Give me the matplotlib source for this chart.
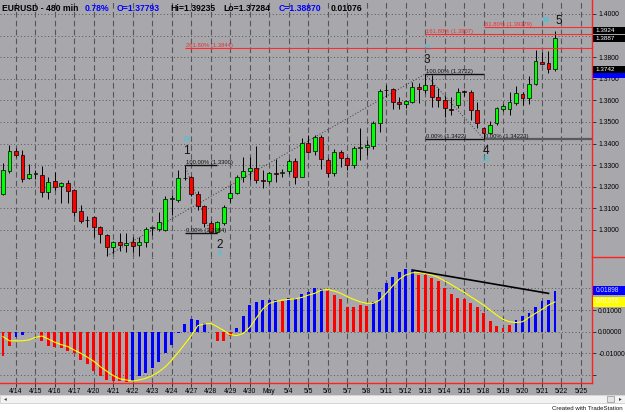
import matplotlib
matplotlib.use('Agg')
import matplotlib.pyplot as plt
from matplotlib.patches import Rectangle
from matplotlib.lines import Line2D

plt.rcParams['font.family'] = ['Liberation Sans', 'DejaVu Sans']

# --- price data (480 min bars) ---
opens = [1.3167, 1.3275, 1.3367, 1.3347, 1.3239, 1.3259, 1.3255, 1.3177, 1.3227, 1.3204,
         1.3219, 1.3185, 1.3088, 1.3046, 1.3059, 1.3015, 1.2977, 1.2920, 1.2946, 1.2931,
         1.2946, 1.2931, 1.2946, 1.3008, 1.3003, 1.3000, 1.3142, 1.3139, 1.3239, 1.3244,
         1.3167, 1.3111, 1.3034, 1.2992, 1.3031, 1.3147, 1.3170, 1.3247, 1.3273, 1.3286,
         1.3233, 1.3227, 1.3263, 1.3264, 1.3275, 1.3321, 1.3247, 1.3404, 1.3367, 1.3432,
         1.3324, 1.3262, 1.3363, 1.3332, 1.3301, 1.3380, 1.3383, 1.3390, 1.3494, 1.3646,
         1.3651, 1.3594, 1.3582, 1.3594, 1.3661, 1.3648, 1.3671, 1.3614, 1.3602, 1.3561,
         1.3579, 1.3640, 1.3638, 1.3556, 1.3474, 1.3448, 1.3494, 1.3560, 1.3560, 1.3587,
         1.3628, 1.3613, 1.3674, 1.3779, 1.3772, 1.3745]
highs = [1.3310, 1.3394, 1.3378, 1.3370, 1.3306, 1.3278, 1.3296, 1.3247, 1.3270, 1.3224,
         1.3231, 1.3188, 1.3116, 1.3065, 1.3065, 1.3019, 1.2981, 1.2950, 1.2988, 1.2988,
         1.2969, 1.2969, 1.3015, 1.3012, 1.3085, 1.3157, 1.3162, 1.3278, 1.3300, 1.3250,
         1.3182, 1.3116, 1.3043, 1.3043, 1.3116, 1.3208, 1.3255, 1.3339, 1.3336, 1.3389,
         1.3278, 1.3270, 1.3327, 1.3281, 1.3327, 1.3332, 1.3424, 1.3440, 1.3440, 1.3440,
         1.3332, 1.3373, 1.3370, 1.3339, 1.3390, 1.3472, 1.3417, 1.3505, 1.3651, 1.3671,
         1.3656, 1.3617, 1.3604, 1.3687, 1.3679, 1.3722, 1.3718, 1.3656, 1.3620, 1.3617,
         1.3656, 1.3650, 1.3648, 1.3591, 1.3478, 1.3505, 1.3571, 1.3583, 1.3638, 1.3668,
         1.3638, 1.3714, 1.3833, 1.3825, 1.3829, 1.39235]
lows = [1.3162, 1.3262, 1.3339, 1.3224, 1.3235, 1.3236, 1.3154, 1.3142, 1.3185, 1.3124,
        1.3127, 1.3065, 1.3034, 1.3015, 1.2969, 1.2941, 1.2880, 1.2895, 1.2904, 1.2900,
        1.2900, 1.2880, 1.2920, 1.2977, 1.2997, 1.2997, 1.3069, 1.3131, 1.3231, 1.3157,
        1.3093, 1.3015, 1.2984, 1.2988, 1.3023, 1.3131, 1.3167, 1.3224, 1.3231, 1.3219,
        1.3193, 1.3219, 1.3224, 1.3247, 1.3259, 1.3213, 1.3244, 1.3358, 1.3347, 1.3281,
        1.3247, 1.3250, 1.3293, 1.3278, 1.3285, 1.3324, 1.3347, 1.3375, 1.3455, 1.3617,
        1.3559, 1.3559, 1.3565, 1.3590, 1.3587, 1.3633, 1.3571, 1.3571, 1.3525, 1.3532,
        1.3567, 1.3620, 1.3509, 1.3471, 1.3422, 1.3443, 1.3486, 1.3551, 1.3532, 1.3579,
        1.3579, 1.3582, 1.3671, 1.3767, 1.37284, 1.3738]
closes = [1.3278, 1.3367, 1.3347, 1.3235, 1.3259, 1.3259, 1.3177, 1.3224, 1.3201, 1.3219,
          1.3182, 1.3085, 1.3043, 1.3044, 1.3012, 1.2981, 1.2920, 1.2943, 1.2931, 1.2941,
          1.2926, 1.2946, 1.3003, 1.3008, 1.3039, 1.3142, 1.3142, 1.3239, 1.3239, 1.3167,
          1.3111, 1.3034, 1.2992, 1.3039, 1.3105, 1.3170, 1.3247, 1.3273, 1.3286, 1.3231,
          1.3229, 1.3262, 1.3261, 1.3266, 1.3321, 1.3247, 1.3404, 1.3363, 1.3432, 1.3327,
          1.3262, 1.3363, 1.3332, 1.3301, 1.3378, 1.3386, 1.3394, 1.3494, 1.3645, 1.3649,
          1.3594, 1.3582, 1.3597, 1.3664, 1.3651, 1.3671, 1.3614, 1.3602, 1.3563, 1.3557,
          1.3640, 1.3638, 1.3556, 1.3494, 1.3448, 1.3486, 1.3563, 1.3576, 1.3591, 1.3633,
          1.3613, 1.3674, 1.3782, 1.3769, 1.3745, 1.3887]

# --- oscillator ---
hist = [-0.0111, -0.0065, -0.0026, -0.0015, -0.0003, -0.0002, -0.0042, -0.0065, -0.0069, -0.0077,
        -0.0088, -0.0100, -0.0129, -0.0149, -0.0180, -0.0203, -0.0222, -0.0226, -0.0229, -0.0231,
        -0.0226, -0.0206, -0.0191, -0.0168, -0.0142, -0.0098, -0.0060, -0.0008, 0.0035, 0.0060,
        0.0054, 0.0038, -0.0003, -0.0042, -0.0042, -0.0018, 0.0017, 0.0074, 0.0123, 0.0138,
        0.0148, 0.0148, 0.0146, 0.0140, 0.0155, 0.0155, 0.0172, 0.0185, 0.0204, 0.0195,
        0.0189, 0.0169, 0.0149, 0.0115, 0.0112, 0.0123, 0.0118, 0.0137, 0.0185, 0.0226,
        0.0251, 0.0277, 0.0288, 0.0280, 0.0262, 0.0262, 0.0249, 0.0232, 0.0203, 0.0174,
        0.0154, 0.0149, 0.0134, 0.0112, 0.0085, 0.0049, 0.0026, 0.0018, 0.0029, 0.0054,
        0.0072, 0.0088, 0.0115, 0.0143, 0.0146, 0.01898]
hist_col = list('rrbbbbrrrrrrrrrrrrrr' 'bbbbbbbbbbbbrrrrbbbb' 'bbbrbbbbbbrrrrrrrbbb'
                'bbbbrrrrrrrrrrrrrrrb' 'bbbbbb')
signal = [-0.0023, -0.0042, -0.0042, -0.0042, -0.0038, -0.0026, -0.0020, -0.0034, -0.0049, -0.0060,
          -0.0069, -0.0085, -0.0100, -0.0118, -0.0137, -0.0162, -0.0183, -0.0203, -0.0218, -0.0223,
          -0.0228, -0.0223, -0.0215, -0.0203, -0.0185, -0.0162, -0.0131, -0.0095, -0.0057, -0.0018,
          0.0028, 0.0036, 0.0038, 0.0023, 0.0005, -0.0014, -0.0018, -0.0008, 0.0020, 0.0063,
          0.0105, 0.0131, 0.0140, 0.0146, 0.0149, 0.0152, 0.0158, 0.0169, 0.0177, 0.0192,
          0.0195, 0.0188, 0.0177, 0.0162, 0.0149, 0.0138, 0.0131, 0.0131, 0.0146, 0.0177,
          0.0211, 0.0242, 0.0262, 0.0272, 0.0274, 0.0269, 0.0262, 0.0251, 0.0235, 0.0218,
          0.0200, 0.0182, 0.0162, 0.0143, 0.0123, 0.0100, 0.0077, 0.0057, 0.0046, 0.0042,
          0.0046, 0.0066, 0.0085, 0.0103, 0.0123, 0.01376]
div_bars = [63, 84]
div_vals = [0.0285, 0.0177]

# --- x axis dates (first bar of each session day) ---
date_labels = ['4/14', '4/15', '4/16', '4/17', '4/20', '4/21', '4/22', '4/23', '4/24', '4/27',
               '4/28', '4/29', '4/30', 'May', '5/4', '5/5', '5/6', '5/7', '5/8', '5/11',
               '5/12', '5/13', '5/14', '5/15', '5/18', '5/19', '5/20', '5/21', '5/22', '5/25']
date_pos = [2 + 3 * k for k in range(len(date_labels))]

price_ticks = [1.30, 1.31, 1.32, 1.33, 1.34, 1.35, 1.36, 1.37, 1.38, 1.39, 1.40]
price_tick_labels = ['1.3000', '1.3100', '1.3200', '1.3300', '1.3400', '1.3500',
                     '1.3600', '1.3700', '1.3800', '', '1.4000']
osc_ticks = [-0.02, -0.01, 0.0, 0.01, 0.02]
osc_tick_labels = ['', '-0.01000', '0.00000', '0.01000', '0.02000']

# elliott wave labels: (bar, text, count, at high?)
waves = [(28, '1', '13', True), (33, '2', '8', False), (65, '3', '21', True),
         (74, '4', '13', False), (85, '5', '34', True)]

# fibonacci levels: (start bar, end bar or None, level, text, colour)
fibs = [(28, 33, 1.3300, '100.00% (1.3300)', 'k'),
        (28, 33, 1.2984, '0.00% (1.2984)', 'k'),
        (65, 74, 1.3722, '100.00% (1.3722)', 'k'),
        (65, 74, 1.3422, '0.00% (1.3422)', 'k'),
        (28, None, 1.3844, '261.80% (1.3844)', 'r'),
        (65, None, 1.3907, '161.80% (1.3907)', 'r'),
        (74, None, 1.39379, '61.80% (1.39379)', 'r')]
zigzag = [(16, 65), (28, 32), (65, 74)]

BG = '#A8A8AC'
GRID = '#55555a'
W, H = 625, 412
XMIN, XMAX = -0.46, 90.7

fig = plt.figure(figsize=(W / 100, H / 100), dpi=100, facecolor=BG)
ax = fig.add_axes([0, 1 - 257 / H, 592 / W, 257 / H], facecolor=BG)
ax2 = fig.add_axes([0, 1 - 382.7 / H, 592 / W, 125.7 / H], facecolor=BG)

# separator in the right margin
fig.lines.append(Line2D([592 / W, 1], [1 - 257 / H, 1 - 257 / H], transform=fig.transFigure,
                        color='#FF2020', lw=1.0))

# bottom strip
fig.patches.append(Rectangle((0, 0), 1, 17 / H, transform=fig.transFigure, fc='white', ec='none', zorder=0))
fig.patches.append(Rectangle((0, 9 / H), 1, 8 / H, transform=fig.transFigure, fc='#F2F2F2', ec='#C8C8C8', lw=0.5, zorder=1))
fig.patches.append(Rectangle((607 / W, 10 / H), 7 / W, 6 / H, transform=fig.transFigure, fc='#E4E4E4', ec='#909090', lw=0.5, zorder=2))
fig.text(4 / W, 13 / H, '\u25c2', fontsize=4, va='center', color='#404040')
fig.text(619 / W, 13 / H, '\u25b8', fontsize=4, va='center', color='#404040')
fig.text(623 / W, 3.5 / H, 'Created with TradeStation', fontsize=4.4, ha='right', va='center', color='#111111')

for a in (ax, ax2):
    a.set_xlim(XMIN, XMAX)
    for s in ('top', 'left'):
        a.spines[s].set_visible(False)
    a.spines['right'].set_color('#FF2020')
    a.spines['right'].set_linewidth(1.0)
    a.spines['bottom'].set_color('#FF2020')
    a.spines['bottom'].set_linewidth(1.0)
    a.yaxis.tick_right()
    a.tick_params(axis='y', length=3, width=0.6, color='#202020', pad=1.5, labelsize=4.9)
    a.tick_params(axis='x', length=3, width=0.6, color='#202020', pad=1, labelsize=4.9)
    for p in date_pos:
        a.axvline(p, color=GRID, lw=0.8, ls=(0, (5, 3)), zorder=1)
ax.spines['bottom'].set_visible(False)

# ---- price panel ----
ax.set_ylim(1.2875, 1.40648)
ax.set_yticks(price_ticks)
ax.set_yticklabels(price_tick_labels)
ax.set_xticks(date_pos)
ax.set_xticklabels([])
ax.tick_params(axis='x', length=0)
for v in price_ticks:
    ax.axhline(v, color=GRID, lw=0.7, ls=(0, (1, 2.5)), zorder=1)

xs = list(range(len(opens)))
ax.vlines(xs, lows, highs, color='black', lw=0.7, zorder=3)
bottoms = [min(o, c) for o, c in zip(opens, closes)]
heights = [max(abs(c - o), 0.0004) for o, c in zip(opens, closes)]
cols = ['#00FF00' if c >= o else '#FF0000' for o, c in zip(opens, closes)]
ax.bar(xs, heights, bottom=bottoms, width=0.6, color=cols, edgecolor='black', lw=0.5, zorder=4)

for a_bar, b_bar in zigzag:
    y0 = lows[a_bar] if a_bar in (16, 32) else highs[a_bar]
    y1 = highs[b_bar] if b_bar == 65 else lows[b_bar]
    ax.plot([a_bar, b_bar], [y0, y1], color='#3a3a3a', lw=0.7, ls=(0, (1, 2)), zorder=2)

ax.hlines(lows[74], 74, XMAX, color='#5a5a5a', lw=1.6, zorder=2)
ax.text(74.2, lows[74], '0.00% (1.34223)', fontsize=4.2, va='bottom', ha='left', color='#111111', zorder=6)
for sb, eb, lvl, txt, c in fibs:
    col = '#111111' if c == 'k' else '#FF2A2A'
    end = XMAX if eb is None else eb
    ax.hlines(lvl, sb, end, color=col, lw=1.0 if c == 'k' else 0.8, zorder=5)
    ax.text(sb + 0.2, lvl, txt, fontsize=4.2, va='bottom', ha='left',
            color=col if c == 'k' else '#EE3030', zorder=6)

for b, num, cnt, up in waves:
    yv = highs[b] if up else lows[b]
    if b == 85:
        ax.annotate(num, (b, yv), xytext=(4, 10), textcoords='offset pixels', fontsize=8.5,
                    ha='center', va='center', color='#101010')
        ax.annotate(cnt, (b, yv), xytext=(-9, 10), textcoords='offset pixels', fontsize=5,
                    ha='center', va='center', color='#22CCEE')
    elif up:
        ax.annotate(num, (b, yv), xytext=(2, 14), textcoords='offset pixels', fontsize=8.5,
                    ha='center', va='center', color='#101010')
        ax.annotate(cnt, (b, yv), xytext=(2, 26), textcoords='offset pixels', fontsize=5,
                    ha='center', va='center', color='#22CCEE')
    else:
        ax.annotate(num, (b, yv), xytext=(2, -12), textcoords='offset pixels', fontsize=8.5,
                    ha='center', va='center', color='#101010')
        ax.annotate(cnt, (b, yv), xytext=(2, -21), textcoords='offset pixels', fontsize=5,
                    ha='center', va='center', color='#22CCEE')

# price marker boxes on the axis
ytr = ax.get_yaxis_transform()
px = (1.40648 - 1.2875) / 257.0
for val, txt, fc, tc in [(1.3722, '', '#0000FF', 'white'),
                         (1.39235, '1.3924', 'black', 'white'),
                         (1.3887, '1.3887', 'black', 'white'),
                         (1.3742, '1.3742', 'black', 'white')]:
    ax.add_patch(Rectangle((1.0015, val - 3.5 * px), 33 / 592, 7 * px, transform=ytr,
                           fc=fc, ec='none', clip_on=False, zorder=7))
    if txt:
        ax.text(1.0015 + 3 / 592, val, txt, transform=ytr, fontsize=4.6, color=tc,
                va='center', ha='left', clip_on=False, zorder=8)

# ---- oscillator panel ----
ax2.set_ylim(-0.02356, 0.0345)
ax2.set_yticks(osc_ticks)
ax2.set_yticklabels(osc_tick_labels)
for v in osc_ticks:
    ax2.axhline(v, color=GRID, lw=0.7, ls=(0, (1, 2.5)), zorder=1)
ax2.bar(xs, hist, width=0.45, color=['#0000FF' if c == 'b' else '#FF0000' for c in hist_col],
        lw=0, zorder=3)
ax2.plot(xs, signal, color='#FFFF00', lw=0.8, zorder=4)
ax2.plot(div_bars, div_vals, color='black', lw=1.2, zorder=5)
ax2.set_xticks(date_pos)
ax2.set_xticklabels(date_labels)

ytr2 = ax2.get_yaxis_transform()
px2 = (0.0345 + 0.02356) / 125.7
for val, txt, fc, tc in [(0.01898, '0.01898', '#0000FF', '#DDDDFF'),
                         (0.01376, '0.01376', '#FFFF00', '#FFFFE0')]:
    ax2.add_patch(Rectangle((1.0015, val - 4.8 * px2), 33 / 592, 9.6 * px2, transform=ytr2,
                            fc=fc, ec='none', clip_on=False, zorder=7))
    ax2.text(1.0015 + 3 / 592, val, txt, transform=ytr2, fontsize=4.7, color=tc,
             va='center', ha='left', clip_on=False, zorder=8)

# ---- title line ----
ty = 1 - 8.5 / H
for xp, txt, c in [(2, 'EURUSD - 480 min', 'black'), (85, '0.78%', '#0000FF'),
                   (117, 'O=1.37793', '#0000FF'), (170, 'Hi=1.39235', 'black'),
                   (223, 'Lo=1.37284', 'black'), (279, 'C=1.38870', '#0000FF'),
                   (331, '0.01076', 'black')]:
    fig.text(xp / W, ty, txt, fontsize=6.2, fontweight='bold', color=c, va='center', ha='left', zorder=10)

fig.savefig('out.png', dpi=100, facecolor=BG)
